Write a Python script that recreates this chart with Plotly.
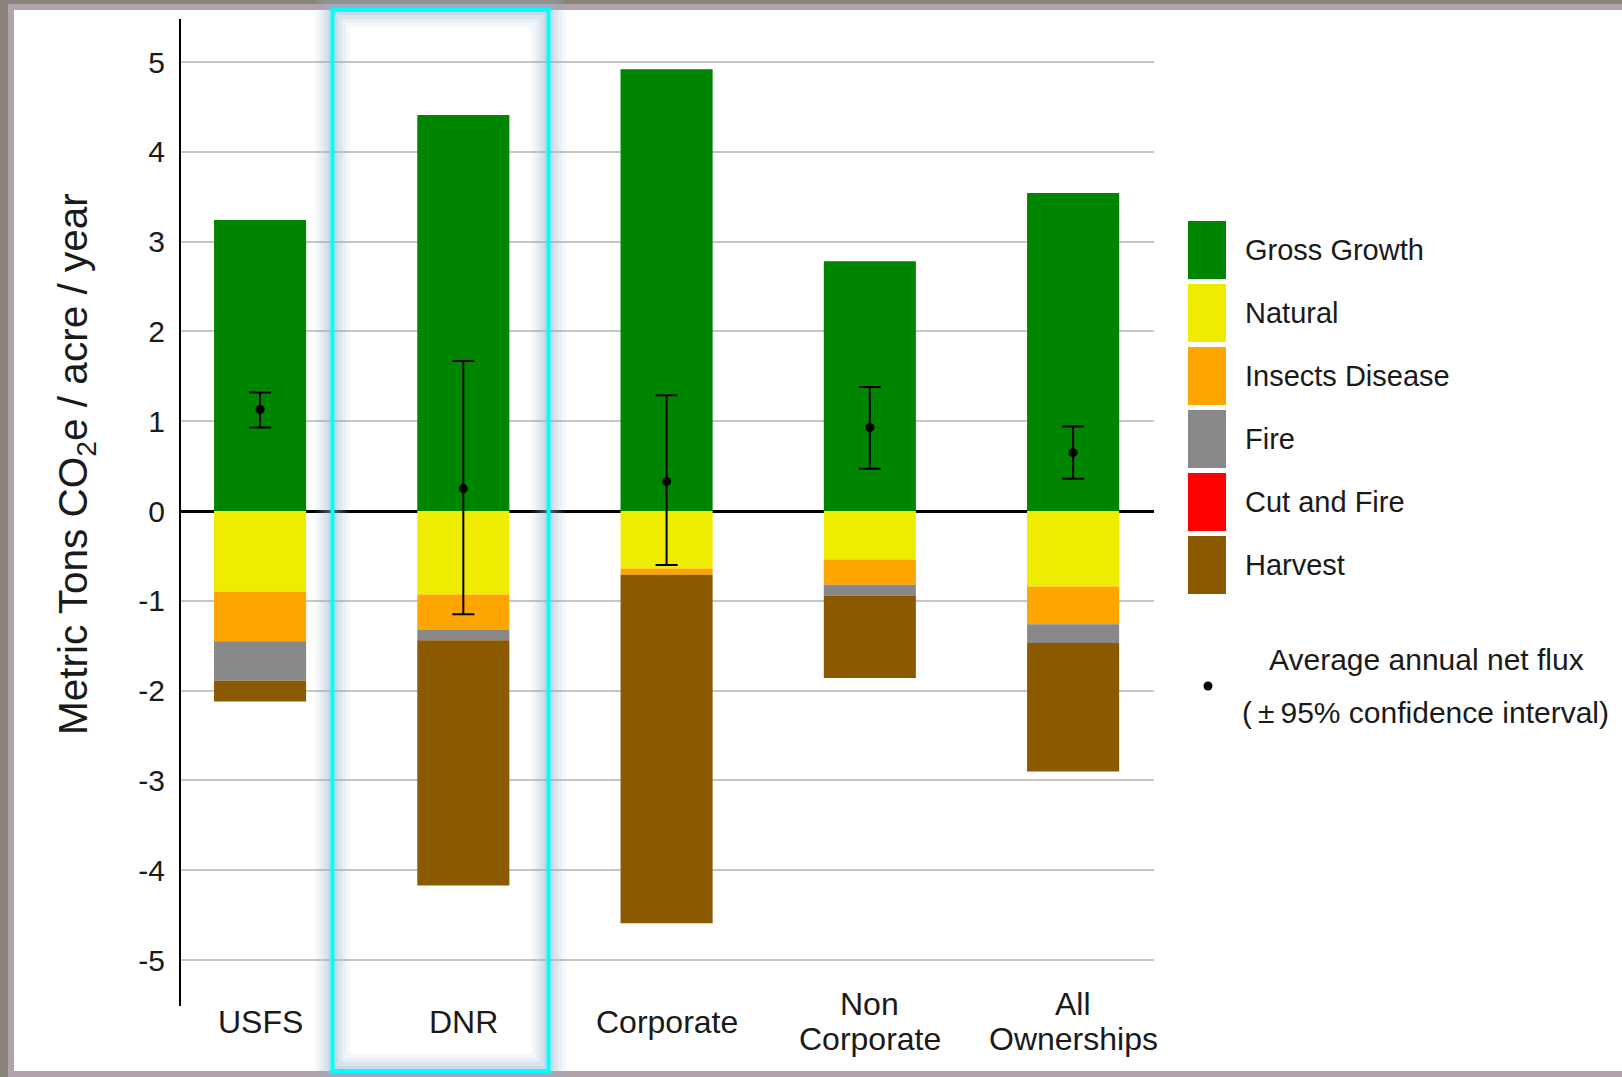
import plotly.graph_objects as go

# ---- data -------------------------------------------------------------
categories = ["USFS", "DNR", "Corporate", "Non Corporate", "All Ownerships"]
category_label_lines = [["USFS"], ["DNR"], ["Corporate"], ["Non", "Corporate"], ["All", "Ownerships"]]

gross_growth = [3.24, 4.41, 4.92, 2.78, 3.54]
natural = [-0.90, -0.93, -0.64, -0.54, -0.84]
insects_disease = [-0.55, -0.39, -0.07, -0.28, -0.42]
fire = [-0.44, -0.12, 0.0, -0.12, -0.21]
cut_and_fire = [0.0, 0.0, 0.0, 0.0, 0.0]
harvest = [-0.23, -2.73, -3.88, -0.92, -1.43]

net_flux = [1.13, 0.25, 0.33, 0.93, 0.65]
ci_upper = [1.32, 1.67, 1.29, 1.38, 0.94]
ci_lower = [0.93, -1.15, -0.60, 0.47, 0.36]

y_tick_vals = [5, 4, 3, 2, 1, 0, -1, -2, -3, -4, -5]
y_tick_text = ["5", "4", "3", "2", "1", "0", "-1", "-2", "-3", "-4", "-5"]

series_names = ["Gross Growth", "Natural", "Insects Disease", "Fire", "Cut and Fire", "Harvest"]
series_values = [gross_growth, natural, insects_disease, fire, cut_and_fire, harvest]
series_colors = ["#008500", "#EEEC00", "#FFA500", "#888888", "#FF0000", "#8B5A00"]

# ---- canvas helpers (pixel -> paper fraction) ----------------------------
W, H = 1622, 1077


def px(x):
    return x / W


def py(y):
    return 1 - y / H


FONT = "Liberation Sans, Arial, sans-serif"
TEXT = "#1a1a1a"

fig = go.Figure()

for name, vals, color in zip(series_names, series_values, series_colors):
    fig.add_trace(go.Bar(
        x=categories, y=vals, name=name, width=0.453,
        marker=dict(color=color, line=dict(width=0)),
        showlegend=False,
    ))

fig.add_trace(go.Scatter(
    x=categories, y=net_flux, mode="markers",
    marker=dict(color="black", size=9),
    error_y=dict(
        type="data",
        array=[u - n for u, n in zip(ci_upper, net_flux)],
        arrayminus=[n - l for n, l in zip(net_flux, ci_lower)],
        color="black", thickness=2, width=11,
    ),
    showlegend=False,
))

fig.update_layout(
    width=W, height=H,
    margin=dict(l=0, r=0, t=0, b=0),
    paper_bgcolor="white", plot_bgcolor="white",
    barmode="relative",
    font=dict(family=FONT, color=TEXT),
    xaxis=dict(
        type="category", categoryorder="array", categoryarray=categories,
        domain=[px(181), px(1154)], range=[-0.389, 4.398],
        showticklabels=False, showgrid=False, zeroline=False, showline=False,
        fixedrange=True,
    ),
    yaxis=dict(
        domain=[py(1006), py(19)], range=[-5.512, 5.479],
        tickvals=y_tick_vals, ticktext=y_tick_text,
        tickfont=dict(size=30, family=FONT, color=TEXT),
        ticks="", ticklabelstandoff=8,
        showgrid=True, gridcolor="#c6c6c6", gridwidth=2,
        zeroline=True, zerolinecolor="black", zerolinewidth=3,
        showline=True, linecolor="black", linewidth=2,
        fixedrange=True,
    ),
)

annotations = []

# category labels under the bars (tight line spacing for two-line names)
for cat, lines in zip(categories, category_label_lines):
    ys = [1022] if len(lines) == 1 else [1004, 1039]
    for line, yy in zip(lines, ys):
        annotations.append(dict(
            x=cat, xref="x", y=py(yy), yref="paper",
            text=line, showarrow=False, xanchor="center", yanchor="middle",
            font=dict(size=32, family=FONT, color=TEXT),
        ))

# y-axis title
annotations.append(dict(
    x=px(76), y=py(464), xref="paper", yref="paper",
    text="Metric Tons CO<sub>2</sub>e / acre / year", textangle=-90,
    showarrow=False, xanchor="center", yanchor="middle",
    font=dict(size=40.5, family=FONT, color=TEXT),
))

shapes = []

# legend swatches + labels
legend_centers = [250, 313, 376, 439, 502, 565]
for name, color, cy in zip(series_names, series_colors, legend_centers):
    shapes.append(dict(
        type="rect", xref="paper", yref="paper",
        x0=px(1188), x1=px(1226), y0=py(cy + 29), y1=py(cy - 29),
        fillcolor=color, line=dict(width=0), layer="above",
    ))
    annotations.append(dict(
        x=px(1243), y=py(cy), xref="paper", yref="paper",
        text=name, showarrow=False, xanchor="left", yanchor="middle",
        font=dict(size=29, family=FONT, color=TEXT),
    ))

# net flux legend entry
shapes.append(dict(
    type="circle", xref="paper", yref="paper",
    x0=px(1203.5), x1=px(1212.5), y0=py(690.5), y1=py(681.5),
    fillcolor="black", line=dict(width=0), layer="above",
))
annotations.append(dict(
    x=px(1426), y=py(659), xref="paper", yref="paper",
    text="Average annual net flux", showarrow=False,
    xanchor="center", yanchor="middle",
    font=dict(size=30, family=FONT, color=TEXT),
))
annotations.append(dict(
    x=px(1425), y=py(712), xref="paper", yref="paper",
    text="(\u2009\u00b1\u200995% confidence interval)", showarrow=False,
    xanchor="center", yanchor="middle",
    font=dict(size=30, family=FONT, color=TEXT),
))

# outer frame
dark = "#8a857b"
lilac = "#b1a3ac"
frame = [
    (0, 0, W, 4, dark),
    (0, 0, 8, H, dark),
    (8, 4, W, 10, lilac),
    (8, 4, 14, H, lilac),
    (8, 1071, W, H, lilac),
]
for x0, y0, x1, y1, c in frame:
    shapes.append(dict(
        type="rect", xref="paper", yref="paper",
        x0=px(x0), x1=px(x1), y0=py(y1), y1=py(y0),
        fillcolor=c, line=dict(width=0), layer="above",
    ))

# highlight box around DNR with soft glow
bx0, by0, bx1, by1 = 332.5, 10, 548.5, 1071
for w, a in [(34, 0.10), (26, 0.13), (18, 0.16), (10, 0.22)]:
    shapes.append(dict(
        type="rect", xref="paper", yref="paper",
        x0=px(bx0), x1=px(bx1), y0=py(by1), y1=py(by0),
        line=dict(color=f"rgba(150,178,208,{a})", width=w),
        fillcolor="rgba(0,0,0,0)", layer="above",
    ))
shapes.append(dict(
    type="rect", xref="paper", yref="paper",
    x0=px(bx0), x1=px(bx1), y0=py(by1), y1=py(by0),
    line=dict(color="#00FFFF", width=4),
    fillcolor="rgba(0,0,0,0)", layer="above",
))

fig.update_layout(annotations=annotations, shapes=shapes)

fig.write_html("out.html")
